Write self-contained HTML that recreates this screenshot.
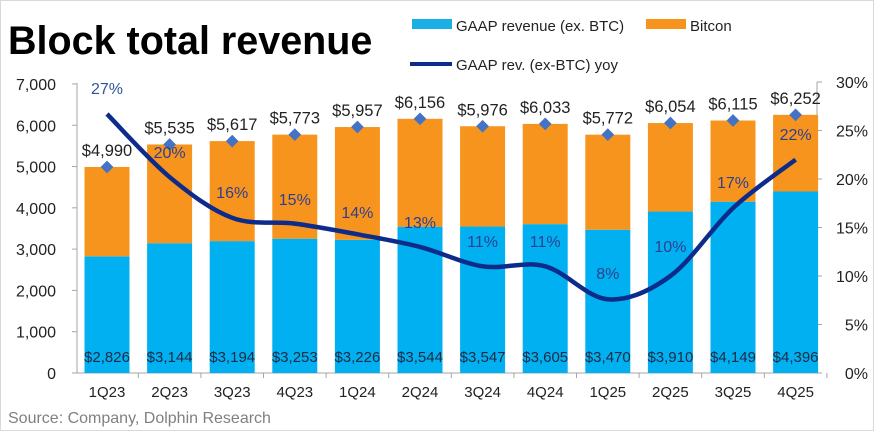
<!DOCTYPE html>
<html><head><meta charset="utf-8"><style>
body{margin:0;background:#fff}
svg{display:block;font-family:"Liberation Sans",Arial,sans-serif}
</style></head><body>
<svg id="c" width="874" height="431" xmlns="http://www.w3.org/2000/svg">
<rect x="0.5" y="0.5" width="873" height="430" fill="#fff" stroke="#d9d9d9"/>
<text x="8" y="54" font-size="39.5" font-weight="bold" fill="#000">Block total revenue</text>
<rect x="412" y="19" width="40" height="10" fill="#1aaee6"/>
<text x="456" y="31" font-size="15" fill="#222">GAAP revenue (ex. BTC)</text>
<rect x="646" y="19" width="40" height="10" fill="#f7941d"/>
<text x="690" y="31" font-size="15" fill="#222">Bitcon</text>
<line x1="410" y1="64" x2="452" y2="64" stroke="#0d2b8a" stroke-width="4"/>
<text x="456" y="70" font-size="15" fill="#222">GAAP rev. (ex-BTC) yoy</text>
<g id="g"></g>
<text x="8" y="423" font-size="16" fill="#808080">Source: Company, Dolphin Research</text>
</svg>
<script>
var g=document.getElementById('g'),s='';
var gaap=[2826,3144,3194,3253,3226,3544,3547,3605,3470,3910,4149,4396];
var tot=[4990,5535,5617,5773,5957,6156,5976,6033,5772,6054,6115,6252];
var yoy=[26.7,20.2,16,15.4,14.3,13,11,11,7.6,10,17,22];
var yl=[null,152,192,199,212,222,241,241,273,246,182,134];
var cats=['1Q23','2Q23','3Q23','4Q23','1Q24','2Q24','3Q24','4Q24','1Q25','2Q25','3Q25','4Q25'];
function Y(v){return 373-v*0.04129}
function P(p){return 373-p*9.7}
function fmt(n){return '$'+n.toLocaleString('en-US')}
s+='<line x1="77" y1="83" x2="77" y2="373" stroke="#a6a6a6"/><line x1="817" y1="82" x2="817" y2="373" stroke="#a6a6a6"/><line x1="77" y1="373" x2="817" y2="373" stroke="#a6a6a6"/>';
for(var i=0;i<=7;i++){var y=Y(i*1000);s+='<line x1="72" y1="'+y+'" x2="77" y2="'+y+'" stroke="#a6a6a6"/><text x="56" y="'+(y+6)+'" font-size="16" text-anchor="end" fill="#222">'+(i?(i*1000).toLocaleString('en-US'):'0')+'</text>';}
for(var i=0;i<=6;i++){var y=P(i*5);s+='<line x1="817" y1="'+y+'" x2="822" y2="'+y+'" stroke="#a6a6a6"/><text x="868" y="'+(y+6)+'" font-size="16" text-anchor="end" fill="#222">'+(i*5)+'%</text>';}
var xs=[];
for(var i=0;i<12;i++){var x=107+62.6*i;xs.push(x);var w=45;
s+='<rect x="'+(x-w/2)+'" y="'+Y(gaap[i])+'" width="'+w+'" height="'+(373-Y(gaap[i]))+'" fill="#00b0f0"/>';
s+='<rect x="'+(x-w/2)+'" y="'+Y(tot[i])+'" width="'+w+'" height="'+(Y(gaap[i])-Y(tot[i]))+'" fill="#f7941d"/>';
s+='<text x="'+x+'" y="362" font-size="15" text-anchor="middle" fill="#1f2a44">'+fmt(gaap[i])+'</text>';
s+='<text x="'+x+'" y="397" font-size="15" text-anchor="middle" fill="#222">'+cats[i]+'</text>';
s+='<line x1="'+(x+31.3)+'" y1="373" x2="'+(x+31.3)+'" y2="378" stroke="#a6a6a6"/>';}
var pts=xs.map(function(x,i){return [x,P(yoy[i])]});
var d='M'+pts[0][0]+','+pts[0][1];
for(var i=0;i<11;i++){var p0=pts[Math.max(0,i-1)],p1=pts[i],p2=pts[i+1],p3=pts[Math.min(11,i+2)];
d+=' C'+(p1[0]+(p2[0]-p0[0])/6)+','+(p1[1]+(p2[1]-p0[1])/6)+' '+(p2[0]-(p3[0]-p1[0])/6)+','+(p2[1]-(p3[1]-p1[1])/6)+' '+p2[0]+','+p2[1];}
s+='<path d="'+d+'" fill="none" stroke="#0d2b8a" stroke-width="4.5"/>';
for(var i=0;i<12;i++){var x=xs[i],y=Y(tot[i]);
s+='<rect x="'+(x-4.5)+'" y="'+(y-4.5)+'" width="9" height="9" fill="#4472c4" transform="rotate(45 '+x+' '+y+')"/>';
s+='<text x="'+x+'" y="'+(y-11)+'" font-size="16.5" text-anchor="middle" fill="#222">'+fmt(tot[i])+'</text>';
var py=i==0?94:yl[i]+6;
s+='<text x="'+x+'" y="'+py+'" font-size="16" text-anchor="middle" fill="'+(i==0?'#2f5597':'#2f3f8f')+'">'+Math.round(yoy[i])+'%</text>';}
g.innerHTML=s;
</script>
</body></html>
